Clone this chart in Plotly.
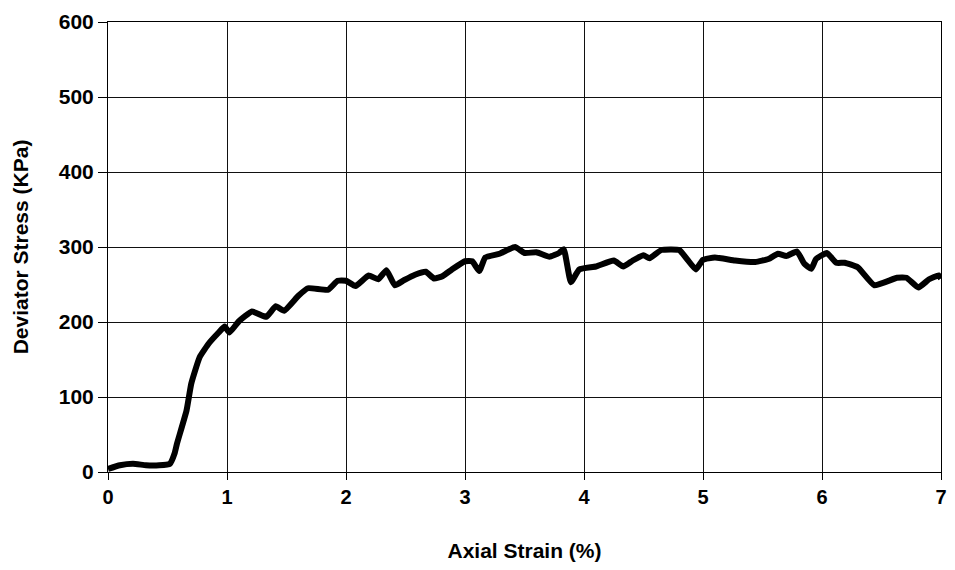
import plotly.graph_objects as go

strain = [0.00, 0.10, 0.21, 0.32, 0.43, 0.52, 0.56, 0.58, 0.66, 0.70, 0.77, 0.85, 0.93, 0.98,
          1.02, 1.10, 1.21, 1.33, 1.41, 1.48, 1.60, 1.68, 1.85, 1.93, 2.00, 2.08, 2.19, 2.27,
          2.34, 2.41, 2.49, 2.58, 2.67, 2.74, 2.81, 2.89, 3.00, 3.06, 3.12, 3.17, 3.29, 3.42,
          3.50, 3.60, 3.71, 3.79, 3.83, 3.89, 3.96, 4.10, 4.25, 4.33, 4.41, 4.50, 4.55, 4.65,
          4.80, 4.87, 4.94, 5.00, 5.10, 5.27, 5.44, 5.55, 5.63, 5.70, 5.79, 5.85, 5.91, 5.95,
          6.04, 6.12, 6.19, 6.30, 6.44, 6.63, 6.71, 6.81, 6.90, 6.98, 7.00]
stress = [4, 9, 11, 9, 9, 11, 25, 38, 82, 118, 153, 172, 186, 194,
          186, 201, 214, 207, 221, 215, 235, 245, 243, 255, 255, 248, 262, 257,
          269, 249, 256, 263, 267, 258, 261, 270, 281, 281, 268, 286, 291, 300,
          292, 293, 287, 292, 297, 253, 270, 274, 282, 274, 282, 289, 285, 296,
          296, 283, 270, 283, 286, 282, 280, 284, 291, 288, 294, 278, 271, 284,
          292, 279, 279, 273, 249, 259, 259, 246, 257, 262, 258]

x_ticks = [0, 1, 2, 3, 4, 5, 6, 7]
y_ticks = [0, 100, 200, 300, 400, 500, 600]

fig = go.Figure()
fig.add_trace(go.Scatter(x=strain, y=stress, mode="lines",
                         line=dict(color="black", width=6, shape="spline", smoothing=0.4),
                         showlegend=False))

font_family = "Liberation Sans, Arial, sans-serif"
fig.update_layout(
    width=955, height=570,
    margin=dict(l=108, r=8, t=22, b=98),
    paper_bgcolor="white", plot_bgcolor="white",
    font=dict(family=font_family, color="black"),
)
fig.update_xaxes(
    range=[0, 7], tickvals=x_ticks, ticktext=[f"<b>{v}</b>" for v in x_ticks],
    tickfont=dict(size=20), ticks="outside", ticklen=7, tickcolor="black",
    showgrid=True, gridcolor="#111111", gridwidth=1,
    showline=True, linecolor="black", linewidth=1, mirror=True,
    zeroline=False,
    title=dict(text="<b>Axial Strain (%)</b>", font=dict(size=21), standoff=36),
)
fig.update_yaxes(
    range=[0, 600], tickvals=y_ticks, ticktext=[f"<b>{v}</b>" for v in y_ticks],
    tickfont=dict(size=21), ticks="outside", ticklen=9, tickcolor="black",
    showgrid=True, gridcolor="#111111", gridwidth=1,
    showline=True, linecolor="black", linewidth=1, mirror=True,
    zeroline=False,
    title=dict(text="<b>Deviator Stress (KPa)</b>", font=dict(size=21), standoff=24),
)

fig.write_html("out.html")
